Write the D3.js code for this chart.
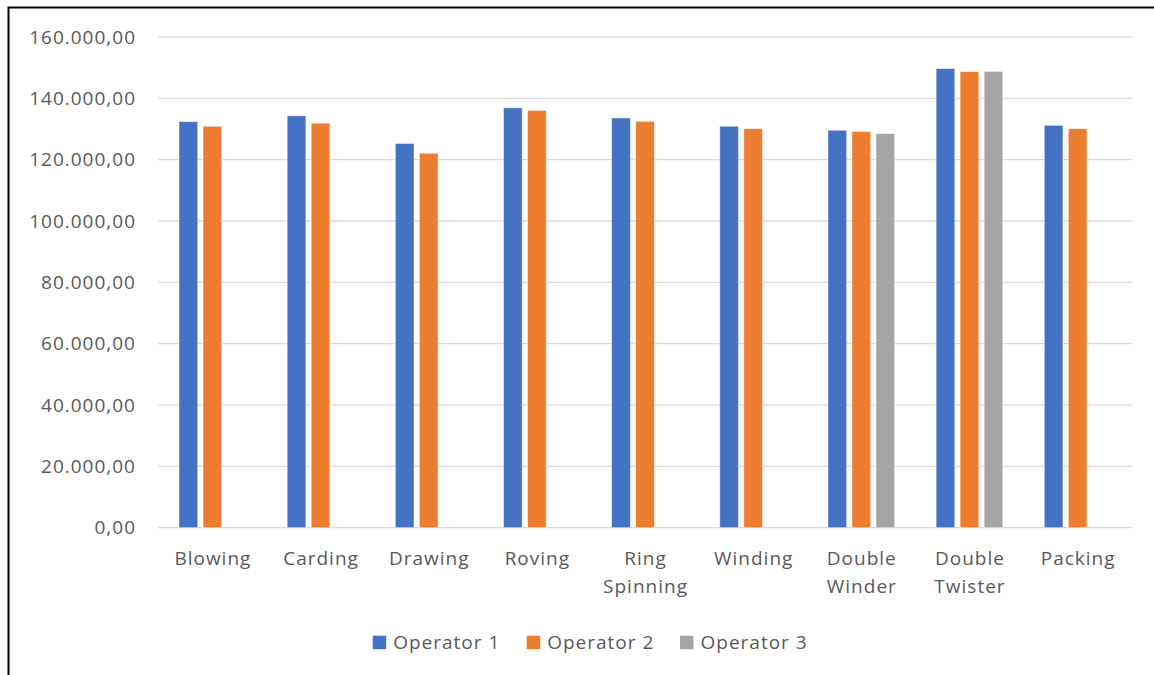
<!DOCTYPE html>
<html>
<head>
<meta charset="utf-8">
<script src="https://cdn.jsdelivr.net/npm/d3@7"></script>
<style>
  html, body { margin: 0; padding: 0; background: #fff; }
  svg { display: block; }
  text { font-family: "Open Sans", Lato, sans-serif; fill: #595959; letter-spacing: 1px; }
</style>
</head>
<body>
<svg id="chart" width="1154" height="675"></svg>
<script>
// Production stages and the output recorded per operator
const categories = ["Blowing", "Carding", "Drawing", "Roving", "Ring Spinning",
                    "Winding", "Double Winder", "Double Twister", "Packing"];
const seriesNames = ["Operator 1", "Operator 2", "Operator 3"];
const operator1 = [132400, 134300, 125300, 136900, 133600, 130900, 129600, 149700, 131200];
const operator2 = [130900, 131900, 122100, 136100, 132500, 130100, 129200, 148700, 130100];
const operator3 = [null, null, null, null, null, null, 128500, 148800, null];
const yTicks = [0, 20000, 40000, 60000, 80000, 100000, 120000, 140000, 160000];
const colors = ["#4472C4", "#ED7D31", "#A5A5A5"];

const series = [operator1, operator2, operator3];

const svg = d3.select("#chart");
const plot = { left: 158.3, right: 1131.7, top: 37, bottom: 527.7 };
const fontSize = "19px";

// Outer frame (extends past the right and bottom edges)
svg.append("rect")
  .attr("x", 8.5).attr("y", 7.5)
  .attr("width", 1200).attr("height", 700)
  .attr("fill", "none").attr("stroke", "#000").attr("stroke-width", 2);

const y = d3.scaleLinear().domain([0, 160000]).range([plot.bottom, plot.top]);
const x0 = d3.scaleBand().domain(categories).range([plot.left, plot.right]).paddingInner(0).paddingOuter(0);

// Three bar slots per category, gap width ≈ 222% of a bar
const groupWidth = x0.bandwidth() * 0.617;
const x1 = d3.scaleBand().domain(seriesNames)
  .range([0, groupWidth]).paddingInner(0.221).paddingOuter(0);

const fmt = v => {
  const s = d3.format(",.2f")(v);           // 160,000.00
  return s.replace(/,/g, "#").replace(".", ",").replace(/#/g, ".");
};

// Gridlines
svg.append("g").selectAll("line").data(yTicks).join("line")
  .attr("x1", plot.left).attr("x2", plot.right)
  .attr("y1", d => y(d)).attr("y2", d => y(d))
  .attr("stroke", "#d9d9d9").attr("stroke-width", 1.3);

// Y axis labels
svg.append("g").selectAll("text").data(yTicks).join("text")
  .attr("x", 136).attr("y", d => y(d))
  .attr("dy", "0.35em")
  .attr("text-anchor", "end")
  .style("font-size", fontSize)
  .text(d => fmt(d));

// Bars
const groups = svg.append("g").selectAll("g").data(categories).join("g")
  .attr("transform", c => `translate(${x0(c) + (x0.bandwidth() - groupWidth) / 2},0)`);

groups.selectAll("rect")
  .data((c, i) => series.map((s, k) => ({ name: seriesNames[k], value: s[i], k })))
  .join("rect")
  .filter(d => d.value != null)
  .attr("x", d => x1(d.name))
  .attr("width", x1.bandwidth())
  .attr("y", d => y(d.value))
  .attr("height", d => y(0) - y(d.value))
  .attr("fill", d => colors[d.k])
  .attr("stroke", "rgba(255,255,255,0.6)")
  .attr("stroke-width", 0.8);

// Category labels, wrapped on spaces
const catLabels = svg.append("g").selectAll("text").data(categories).join("text")
  .attr("text-anchor", "middle")
  .style("font-size", fontSize)
  .attr("transform", c => `translate(${x0(c) + x0.bandwidth() / 2 + 0.5},565)`);
catLabels.each(function(c) {
  const words = c.split(" ");
  d3.select(this).selectAll("tspan").data(words).join("tspan")
    .attr("x", 0).attr("y", (w, i) => i * 28)
    .text(w => w);
});

// Legend
const legendX = [372.7, 526.7, 680];
const legend = svg.append("g").selectAll("g").data(seriesNames).join("g")
  .attr("transform", (d, i) => `translate(${legendX[i]},635.7)`);
legend.append("rect")
  .attr("width", 13.5).attr("height", 13.5)
  .attr("fill", (d, i) => colors[i]);
legend.append("text")
  .attr("x", 20.5).attr("y", 6.8).attr("dy", "0.35em")
  .style("font-size", fontSize)
  .text(d => d);
</script>
</body>
</html>
